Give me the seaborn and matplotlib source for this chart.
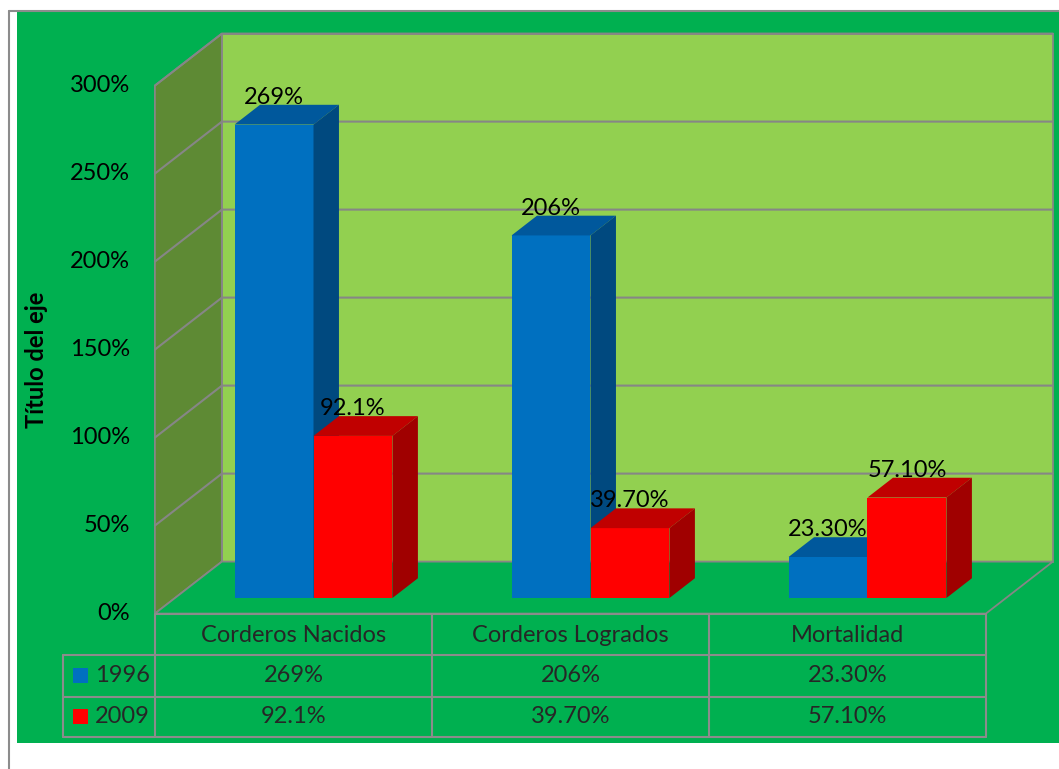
import numpy as np
import pandas as pd
import matplotlib
matplotlib.use("Agg")
import matplotlib.pyplot as plt
import seaborn as sns
from matplotlib.patches import Polygon, Rectangle
from matplotlib.lines import Line2D

# ---- data ----
categories = ["Corderos Nacidos", "Corderos Logrados", "Mortalidad"]
years = ["1996", "2009"]
values_1996 = [269, 206, 23.3]
values_2009 = [92.1, 39.7, 57.1]
labels_1996 = ["269%", "206%", "23.30%"]
labels_2009 = ["92.1%", "39.70%", "57.10%"]
y_ticks = [0, 50, 100, 150, 200, 250, 300]
y_tick_labels = ["0%", "50%", "100%", "150%", "200%", "250%", "300%"]
axis_title = "Título del eje"

# ---- style ----
W, H = 1059, 769
FONT = "Lato"
FS = 17
GREEN_BG = "#00B050"
BACK_WALL = "#92D050"
SIDE_WALL = "#5E8A34"
GRID = "#868686"
FRONT = {"1996": "#0070C0", "2009": "#FF0000"}
TOP = {"1996": "#00589C", "2009": "#C00000"}
SIDE = {"1996": "#00497F", "2009": "#A00000"}

sns.set_theme(style="white")
plt.rcParams["font.family"] = [FONT, "DejaVu Sans"]

df = pd.DataFrame({
    "categoria": categories * 2,
    "anio": [years[0]] * 3 + [years[1]] * 3,
    "valor": values_1996 + values_2009,
})

fig = plt.figure(figsize=(W / 100, H / 100), dpi=100)
fig.patch.set_facecolor("white")

# chart area background and outer frame (figure pixel coordinates)
fig.patches.append(Rectangle((17 / W, (H - 743) / H), (W - 17) / W, (743 - 12) / H,
                             transform=fig.transFigure, facecolor=GREEN_BG,
                             edgecolor="none", zorder=-10))
fig.lines.append(Line2D([9 / W, 9 / W], [0, (H - 11) / H], transform=fig.transFigure,
                        color="#8C8C8C", lw=1.5, zorder=-9))
fig.lines.append(Line2D([9 / W, 1], [(H - 11) / H, (H - 11) / H], transform=fig.transFigure,
                        color="#8C8C8C", lw=1.5, zorder=-9))

ax = fig.add_axes([0, 0, 1, 1])
ax.set_facecolor("none")

sns.barplot(data=df, x="categoria", y="valor", hue="anio", hue_order=years,
            order=categories, palette=[FRONT[y] for y in years], width=0.57,
            saturation=1, gap=0, linewidth=0, edgecolor="none", legend=False,
            errorbar=None, ax=ax)

# pixel layout of the axes: x = category units, y = percent
X0, SX = 313.5, 277.0
Y0, SY = 598.0, 1.76
ax.set_xlim((0 - X0) / SX, (W - X0) / SX)
ax.set_ylim((Y0 - H) / SY, Y0 / SY)
ax.axis("off")

# oblique depth: full floor depth and bar placement within it
DX, DY = 67 / SX, 52 / SY
T_BAR, D_BAR = 0.30, 0.38
XL, XR = -0.5, len(categories) - 0.5
VMAX = y_ticks[-1]


def proj(x, v, t):
    return (x + (t - T_BAR) * DX, v + (t - T_BAR) * DY)


# walls and floor
ax.add_patch(Polygon([proj(XL, 0, 1), proj(XR, 0, 1), proj(XR, VMAX, 1), proj(XL, VMAX, 1)],
                     closed=True, facecolor=BACK_WALL, edgecolor=GRID, lw=1.3, zorder=1))
ax.add_patch(Polygon([proj(XL, 0, 0), proj(XL, VMAX, 0), proj(XL, VMAX, 1), proj(XL, 0, 1)],
                     closed=True, facecolor=SIDE_WALL, edgecolor=GRID, lw=1.3, zorder=1))
ax.add_patch(Polygon([proj(XL, 0, 0), proj(XR, 0, 0), proj(XR, 0, 1), proj(XL, 0, 1)],
                     closed=True, facecolor=GREEN_BG, edgecolor=GRID, lw=1.3, zorder=1.2))

# gridlines on side and back walls
for v in y_ticks[1:]:
    pts = [proj(XL, v, 0), proj(XL, v, 1), proj(XR, v, 1)]
    ax.plot([p[0] for p in pts], [p[1] for p in pts], color=GRID, lw=1.5, zorder=1.5)

# y tick labels along the front edge of the side wall
for v, lab in zip(y_ticks, y_tick_labels):
    x, y = proj(XL, v, 0)
    ax.text(x - 25 / SX, y, lab, ha="right", va="center", fontsize=FS, color="black")

ax.text((36 - X0) / SX, (Y0 - 360) / SY, axis_title, rotation=90, ha="center", va="center",
        fontsize=17, fontweight="bold", color="black")

# 3D faces of each bar and value labels
dx, dy = D_BAR * DX, D_BAR * DY
all_labels = [labels_1996, labels_2009]
for h, cont in enumerate(ax.containers):
    yr = years[h]
    z = 3 + h
    for bar, lab in zip(cont, all_labels[h]):
        bar.set_zorder(z)
        x0, w, hg = bar.get_x(), bar.get_width(), bar.get_height()
        ax.add_patch(Polygon([(x0, hg), (x0 + w, hg), (x0 + w + dx, hg + dy), (x0 + dx, hg + dy)],
                             closed=True, facecolor=TOP[yr], edgecolor="none", zorder=z))
        ax.add_patch(Polygon([(x0 + w, 0), (x0 + w, hg), (x0 + w + dx, hg + dy), (x0 + w + dx, dy)],
                             closed=True, facecolor=SIDE[yr], edgecolor="none", zorder=z))
        ax.text(x0 + w / 2, hg + 15.5, lab, ha="center", va="center", fontsize=FS,
                color="black", zorder=10)

# data table below the floor
v_front = proj(XL, 0, 0)[1]
row_edges = [v_front - d / SY for d in (0, 41, 83, 123)]
col_x = [proj(XL + i, 0, 0)[0] for i in range(len(categories) + 1)]
x_leg = col_x[0] - 92 / SX
tbl = dict(color="#8C8C8C", lw=1.5, zorder=2)
ax.plot([col_x[0], col_x[-1]], [row_edges[0]] * 2, **tbl)
for r in row_edges[1:]:
    ax.plot([x_leg, col_x[-1]], [r, r], **tbl)
for cx in col_x:
    ax.plot([cx, cx], [row_edges[0], row_edges[-1]], **tbl)
ax.plot([x_leg, x_leg], [row_edges[1], row_edges[-1]], **tbl)

for i, cat in enumerate(categories):
    cx = (col_x[i] + col_x[i + 1]) / 2
    ax.text(cx, (row_edges[0] + row_edges[1]) / 2 - 1 / SY, cat, ha="center", va="center", fontsize=FS)
    ax.text(cx, (row_edges[1] + row_edges[2]) / 2, labels_1996[i], ha="center", va="center", fontsize=FS)
    ax.text(cx, (row_edges[2] + row_edges[3]) / 2, labels_2009[i], ha="center", va="center", fontsize=FS)

for r, yr in enumerate(years):
    yc = (row_edges[r + 1] + row_edges[r + 2]) / 2
    sq = 15
    ax.add_patch(Rectangle((x_leg + 10 / SX, yc - sq / 2 / SY), sq / SX, sq / SY,
                           facecolor=FRONT[yr], edgecolor="none", zorder=3))
    ax.text(x_leg + 32 / SX, yc, yr, ha="left", va="center", fontsize=FS)

fig.savefig("out.png", dpi=100, facecolor="white")
